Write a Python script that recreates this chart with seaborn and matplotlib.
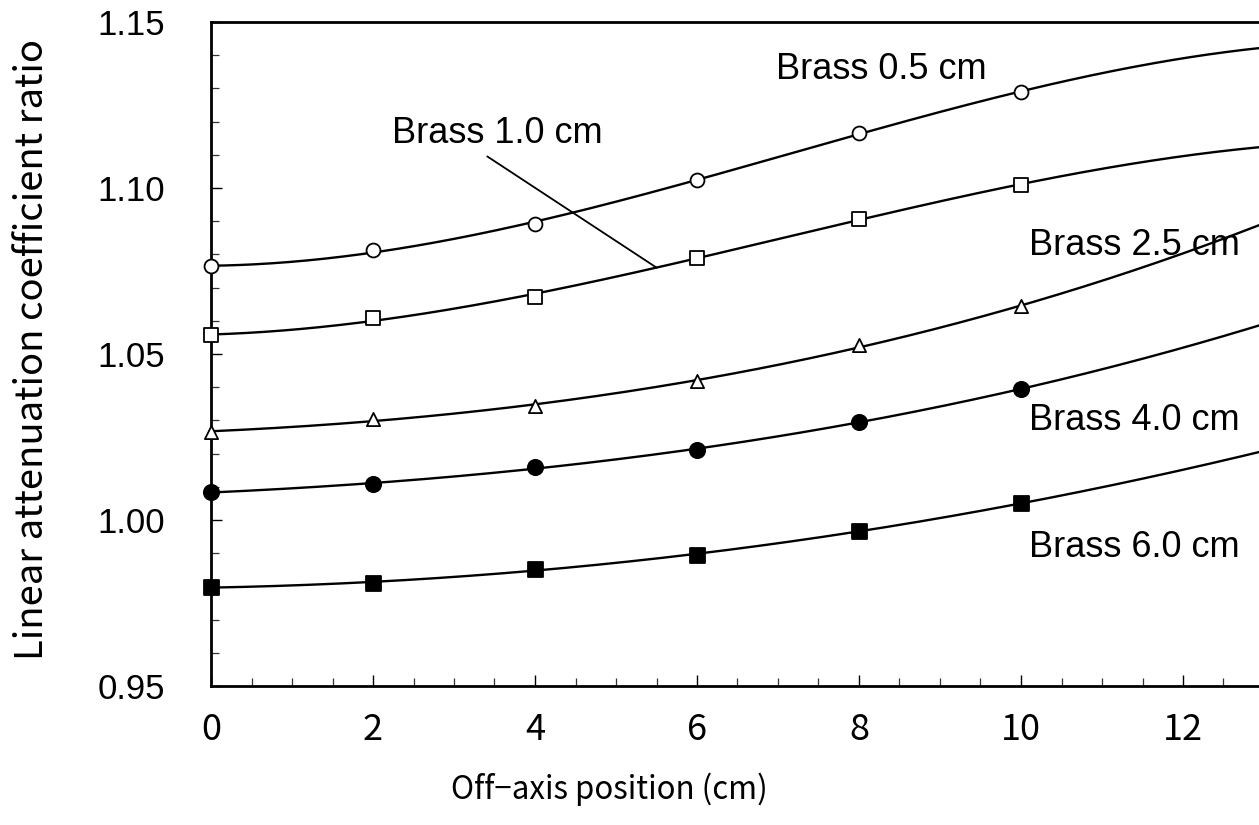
import numpy as np
import pandas as pd
import matplotlib
matplotlib.use("Agg")
import matplotlib.pyplot as plt
from matplotlib.ticker import MultipleLocator, FormatStrFormatter
import seaborn as sns

# Off-axis positions (cm)
positions = [0, 2, 4, 6, 8, 10]

# Linear attenuation coefficient ratio for each brass thickness
brass_05 = [1.0764, 1.0812, 1.0892, 1.1025, 1.1165, 1.1290]
brass_10 = [1.0556, 1.0609, 1.0672, 1.0789, 1.0908, 1.1010]
brass_25 = [1.0265, 1.0305, 1.0343, 1.0418, 1.0526, 1.0644]
brass_40 = [1.0084, 1.0107, 1.0161, 1.0211, 1.0295, 1.0395]
brass_60 = [0.9797, 0.9811, 0.9852, 0.9895, 0.9967, 1.0050]

labels = ["Brass 0.5 cm", "Brass 1.0 cm", "Brass 2.5 cm", "Brass 4.0 cm", "Brass 6.0 cm"]
series = [brass_05, brass_10, brass_25, brass_40, brass_60]

# marker, filled?
marker_styles = [("o", False), ("s", False), ("^", False), ("o", True), ("s", True)]
marker_sizes = [10.0, 9.8, 9.5, 11.0, 10.8]

# label anchor positions (data coords, left / baseline)
label_pos = [(6.97, 1.1329), (2.24, 1.1136), (10.1, 1.0799), (10.1, 1.0270), (10.1, 0.9888)]

sns.set_theme(style="ticks")
plt.rcParams["font.family"] = ["Liberation Sans", "DejaVu Sans"]
for key in ["text.color", "axes.labelcolor", "xtick.color", "ytick.color", "axes.edgecolor"]:
    plt.rcParams[key] = "black"
jp_font = ["Noto Sans CJK JP", "DejaVu Sans"]

fig = plt.figure(figsize=(12.59, 8.25), dpi=100)
W, H = 1259, 825
ax = fig.add_axes([211 / W, 139 / H, 1048 / W, 664 / H])

# cubic trend line through each series
x_fit = np.linspace(0, 13.2, 300)
fits = []
for vals in series:
    coef = np.polyfit(positions, vals, 3)
    fits.append(coef)
    curve = pd.DataFrame({"x": x_fit, "y": np.polyval(coef, x_fit)})
    sns.lineplot(data=curve, x="x", y="y", ax=ax, color="black", lw=1.7,
                 sort=False, estimator=None)

for vals, (mk, filled), ms in zip(series, marker_styles, marker_sizes):
    pts = pd.DataFrame({"x": positions, "y": vals})
    sns.scatterplot(data=pts, x="x", y="y", ax=ax, marker=mk,
                    s=ms ** 2, facecolor="black" if filled else "white",
                    edgecolor="black", linewidth=1.3, zorder=5, clip_on=False)

for i, ((lx, ly), text) in enumerate(zip(label_pos, labels)):
    if i == 1:
        x_end = 5.5
        ax.annotate(text, xy=(x_end, np.polyval(fits[1], x_end)), xytext=(lx, ly),
                    fontsize=26, ha="left", va="baseline", color="black",
                    arrowprops=dict(arrowstyle="-", color="black", lw=1.3,
                                    relpos=(0.41, 0.0), shrinkA=3, shrinkB=0))
    else:
        ax.text(lx, ly, text, fontsize=26, ha="left", va="baseline", color="black")

ax.set_xlim(0, 1048 / 81)
ax.set_ylim(0.95, 1.15)
ax.xaxis.set_major_locator(MultipleLocator(2))
ax.xaxis.set_minor_locator(MultipleLocator(0.5))
ax.yaxis.set_major_locator(MultipleLocator(0.05))
ax.yaxis.set_minor_locator(MultipleLocator(0.01))
ax.yaxis.set_major_formatter(FormatStrFormatter("%.2f"))

ax.tick_params(axis="both", which="major", direction="in", length=8, width=1.0,
               color="black")
ax.tick_params(axis="both", which="minor", direction="in", length=6, width=0.9,
               color="#333333")
ax.tick_params(axis="y", which="major", pad=33, labelsize=25, labelcolor="black")
ax.tick_params(axis="x", which="major", pad=19, labelsize=26, labelcolor="black")
for lab in ax.get_xticklabels():
    lab.set_family(jp_font)

for side in ["left", "bottom", "top"]:
    ax.spines[side].set_linewidth(2.0)
    ax.spines[side].set_color("black")
ax.spines["right"].set_visible(False)

ax.set_xlabel("Off\u2212axis position (cm)", fontsize=22.5, family=jp_font, color="black")
ax.set_ylabel("Linear attenuation coefficient ratio", fontsize=27.5, family=jp_font,
              color="black")
ax.xaxis.set_label_coords(0.38, -0.13)
ax.yaxis.set_label_coords(-0.152, 0.507)

fig.savefig("out.png", dpi=100, facecolor="white")
